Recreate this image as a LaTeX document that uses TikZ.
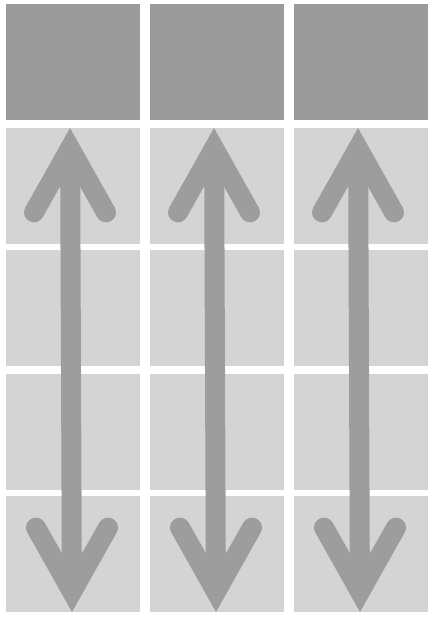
\documentclass[tikz,border=0pt]{standalone}
\usetikzlibrary{positioning}
\usetikzlibrary{calc}
\definecolor{darkcell}{HTML}{9B9B9B}
\definecolor{lightcell}{HTML}{D4D4D4}
\definecolor{arrowgray}{HTML}{9D9D9D}
\tikzstyle{topcell}=[rectangle,fill=darkcell,minimum width=134pt,minimum height=116pt,inner sep=0pt,outer sep=0pt]
\tikzstyle{cell}=[rectangle,fill=lightcell,minimum width=134pt,minimum height=116pt,inner sep=0pt,outer sep=0pt]
\tikzstyle{shaft} = [draw=arrowgray,line width=20pt,shorten <=20pt,shorten >=20pt]
\tikzstyle{barb} = [draw=arrowgray,line width=20pt,line cap=round,line join=miter]

\begin{document}
\begin{tikzpicture}[x=1pt,y=-1pt]
    \useasboundingbox (0,0) rectangle (434,620);
    % First the dark cells of the top row
    \foreach \pos/\name in {{(73,62)/cell-1-1}, {(217,62)/cell-1-2}, {(361,62)/cell-1-3}}
        \node[topcell] (\name) at \pos {};

    % Then the light cells below them
    \foreach \x/\c in {73/1, 217/2, 361/3}
        \foreach \y/\r in {186/2, 308/3, 432/4, 554/5}
            \node[cell] (cell-\r-\c) at (\x,\y) {};

    % Double arrows from the second row down to the last one
    \foreach \c in {1,2,3} {
        \coordinate (top\c) at ($(cell-2-\c.north)+(-3,0)$);
        \coordinate (bot\c) at ($(cell-5-\c.south)+(-1,0)$);
        \path[shaft] (top\c) -- (bot\c);
        \path[barb] ($(top\c)+(-36,84.4)$) -- ($(top\c)+(0,20.4)$) -- ($(top\c)+(36,84.4)$);
        \path[barb] ($(bot\c)+(-36,-84.4)$) -- ($(bot\c)+(0,-20.4)$) -- ($(bot\c)+(36,-84.4)$);
    }
\end{tikzpicture}
\end{document}
